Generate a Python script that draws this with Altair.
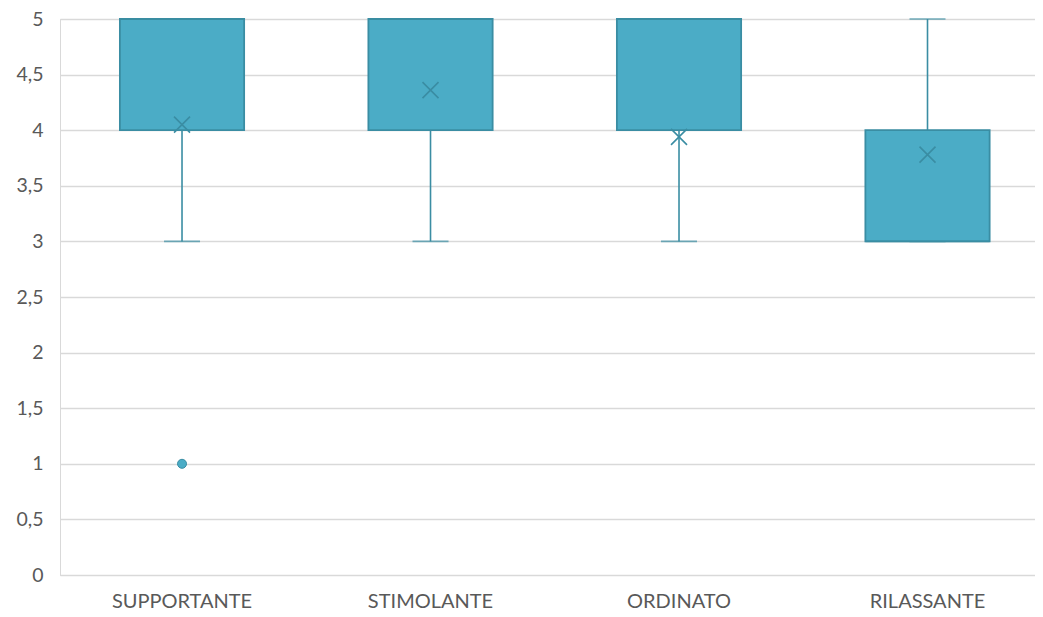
import altair as alt
import pandas as pd

categories = ["SUPPORTANTE", "STIMOLANTE", "ORDINATO", "RILASSANTE"]
whisker_low = [3, 3, 3, 3]
q1 = [4, 4, 4, 3]
median = [5, 5, 5, 3]
q3 = [5, 5, 5, 4]
whisker_high = [5, 5, 5, 5]
means = [4.05, 4.36, 3.94, 3.78]
outlier_cats = ["SUPPORTANTE"]
outlier_vals = [1]
y_ticks = [0, 0.5, 1, 1.5, 2, 2.5, 3, 3.5, 4, 4.5, 5]

df = pd.DataFrame(dict(cat=categories, lo=whisker_low, q1=q1, med=median,
                       q3=q3, hi=whisker_high, mean=means))
out = pd.DataFrame(dict(cat=outlier_cats, val=outlier_vals))

FILL = "#4BACC6"
EDGE = "#3A8DA3"
GRID = "#D9D9D9"
TEXT = "#595959"
FONT = "Lato"

xscale = alt.Scale(domain=categories, paddingInner=0.5, paddingOuter=0.2118, align=0.569)
xaxis = alt.Axis(title=None, labelAngle=0, ticks=False, domainColor=GRID, domainWidth=1,
                 labelPadding=16, labelFontSize=20, labelColor=TEXT, labelFont=FONT, grid=False)
yscale = alt.Scale(domain=[0, 5], nice=False, zero=True)
yaxis = alt.Axis(title=None, values=y_ticks, format=".1~f",
                 labelExpr="replace(datum.label, '.', ',')", ticks=False,
                 grid=True, gridColor=GRID, gridWidth=1.3, domainColor=GRID, domainWidth=1,
                 labelPadding=17, labelFontSize=19.5, labelColor=TEXT, labelFont=FONT)

X = alt.X("cat:N", scale=xscale, sort=categories, axis=xaxis)

base = alt.Chart(df)

whisk_lo = base.mark_rule(color=EDGE, strokeWidth=1.6).encode(
    x=X, y=alt.Y("lo:Q", scale=yscale, axis=yaxis), y2="q1:Q")
whisk_hi = base.mark_rule(color=EDGE, strokeWidth=1.6).encode(
    x=X, y=alt.Y("q3:Q", scale=yscale, axis=yaxis), y2="hi:Q")
cap_lo = base.mark_tick(color=EDGE, size=36, thickness=1.6).encode(
    x=X, y=alt.Y("lo:Q", scale=yscale, axis=yaxis))
cap_hi = base.mark_tick(color=EDGE, size=36, thickness=1.6).encode(
    x=X, y=alt.Y("hi:Q", scale=yscale, axis=yaxis))
box = base.mark_bar(fill=FILL, stroke=EDGE, strokeWidth=1.8, opacity=1).encode(
    x=X, y=alt.Y("q1:Q", scale=yscale, axis=yaxis), y2="q3:Q")
med = base.mark_tick(color=EDGE, size=124, thickness=1.6).encode(
    x=X, y=alt.Y("med:Q", scale=yscale, axis=yaxis))
mean = base.mark_point(shape="M-1,-1L1,1M-1,1L1,-1", filled=False, stroke=EDGE,
                       strokeWidth=1.6, size=256, opacity=1).encode(
    x=X, y=alt.Y("mean:Q", scale=yscale, axis=yaxis))
outl = alt.Chart(out).mark_point(shape="circle", filled=True, fill=FILL, stroke=EDGE,
                                 strokeWidth=1, size=81, opacity=1).encode(
    x=X, y=alt.Y("val:Q", scale=yscale, axis=yaxis))

chart = alt.layer(whisk_lo, whisk_hi, cap_lo, cap_hi, box, med, mean, outl).properties(
    width=975, height=556,
    autosize=alt.AutoSizeParams(type="none"),
    padding={"left": 52, "top": 11, "right": 0, "bottom": 40},
).configure_view(stroke=None).configure(background="white")

chart.save("out.html", embed_options={"renderer": "svg", "actions": False})
